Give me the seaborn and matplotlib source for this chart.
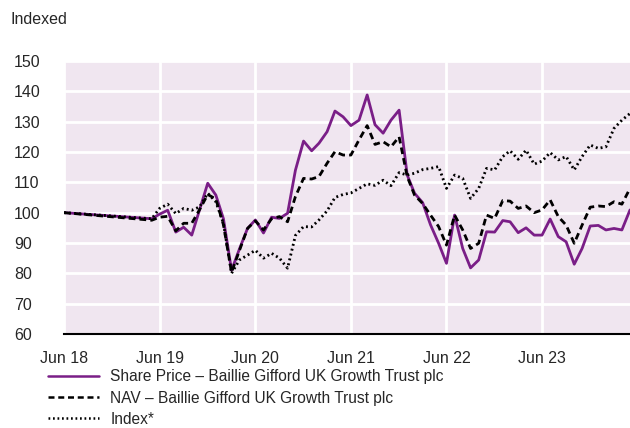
import pandas as pd
import seaborn as sns
import matplotlib.pyplot as plt

# Dados (mensais, com um ponto inicial em Jun 18)
datas = ["2018-06-30"] + [d.strftime("%Y-%m-%d") for d in pd.date_range("2019-05-31", "2024-05-31", freq="ME")]

share_price = [100,
    98, 99.5, 100.8, 93.6, 95.2, 92.6, 101, 109.7, 105.8, 98, 81, 88,
    94.8, 97.6, 93.3, 98.5, 98.1, 99.8, 114, 123.6, 120.4, 122.9, 126.7, 133.5,
    131.6, 128.7, 130.5, 138.8, 129, 126.2, 130.5, 133.8, 112.4, 106.4, 103.3, 96,
    89.9, 83.3, 99.2, 88.2, 81.8, 84.4, 93.7, 93.6, 97.4, 97, 93.4, 95,
    92.6, 92.6, 97.9, 92.1, 90.4, 83, 88.2, 95.6, 95.8, 94.3, 94.8, 94.3,
    100.9]

nav = [100,
    97.5, 98.5, 98.8, 94, 96.5, 96.5, 101, 106, 104.5, 96, 80.3, 87.5,
    94.8, 97.3, 94.3, 98, 98.7, 97, 105.3, 111.3, 111.1, 111.9, 116.3, 120.1,
    119, 119, 124, 128.7, 122.5, 123.4, 121.7, 125, 111.9, 105.8, 103, 99.2,
    95.4, 89.3, 99.2, 94.3, 88.2, 89.9, 99.2, 98.1, 104, 103.8, 101.4, 102.2,
    100, 100.9, 104.2, 98.7, 95.9, 89.9, 95.9, 101.8, 102.2, 102, 103.6, 102.8,
    108]

index = [100,
    98, 101.4, 102.8, 99.7, 101.4, 100.8, 101.9, 106.4, 103.6, 96.5, 80, 84.4,
    86, 87.6, 85, 86.6, 85, 81.7, 92.5, 95.4, 95.3, 97.6, 100.6, 105,
    106, 106.5, 108, 109.5, 109, 110.7, 108.9, 113.2, 112.4, 113, 114.2, 114.6,
    115.2, 108, 112.4, 111.3, 104.7, 108, 114.6, 114.1, 118.5, 120.4, 117.6, 120.6,
    116, 117, 119.8, 117.4, 118.5, 114.1, 118.5, 122.3, 121.2, 121.7, 127.8, 130.5,
    132.7]

yticks = list(range(60, 151, 10))
xtick_labels = ["Jun 18", "Jun 19", "Jun 20", "Jun 21", "Jun 22", "Jun 23"]

df = pd.DataFrame({"data": pd.to_datetime(datas), "share": share_price,
                   "nav": nav, "index": index})

sns.set_style("white")
plt.rcParams["font.family"] = ["Liberation Sans", "DejaVu Sans"]

fig = plt.figure(figsize=(6.3, 4.28), dpi=100)
ax = fig.add_axes([64 / 630, 1 - 334 / 428, 566 / 630, 273 / 428])
ax.set_facecolor("#F0E6F0")

sns.lineplot(data=df, x="data", y="share", ax=ax, color="#7A1E87", linewidth=2,
             label="Share Price \u2013 Baillie Gifford UK Growth Trust plc")
sns.lineplot(data=df, x="data", y="nav", ax=ax, color="black", linewidth=2,
             dashes=(2.4, 1.5), label="NAV \u2013 Baillie Gifford UK Growth Trust plc")
sns.lineplot(data=df, x="data", y="index", ax=ax, color="black", linewidth=2,
             dashes=(0.7, 1.1), label="Index*")

ax.set_ylim(60, 150)
ax.set_yticks(yticks)
ax.set_xlim(pd.Timestamp("2018-06-30"), pd.Timestamp("2024-05-31"))
xticks = [pd.Timestamp(f"20{s[-2:]}-06-30") for s in xtick_labels]
ax.set_xticks(xticks)
ax.set_xticklabels(xtick_labels)

ax.grid(True, color="white", linewidth=2)
for s in ["top", "right", "left"]:
    ax.spines[s].set_visible(False)
ax.spines["bottom"].set_color("black")
ax.spines["bottom"].set_linewidth(1.5)
ax.tick_params(axis="both", length=0, labelsize=11.5)
ax.tick_params(axis="y", pad=36)
for lbl in ax.get_yticklabels():
    lbl.set_horizontalalignment("left")
ax.tick_params(axis="x", pad=12)
ax.set_xlabel("")
ax.set_ylabel("")

fig.text(10 / 630, 1 - 20 / 428, "Indexed", fontsize=11.5, va="center", ha="left")

leg = ax.legend(loc="upper left", bbox_to_anchor=(-16 / 566, -0.13), frameon=False,
                fontsize=11.2, handlelength=3.3, handletextpad=0.7, labelspacing=0.4,
                borderaxespad=0, borderpad=0)
for line in leg.get_lines():
    line.set_linewidth(1.8)

fig.savefig("out.png", dpi=100)
